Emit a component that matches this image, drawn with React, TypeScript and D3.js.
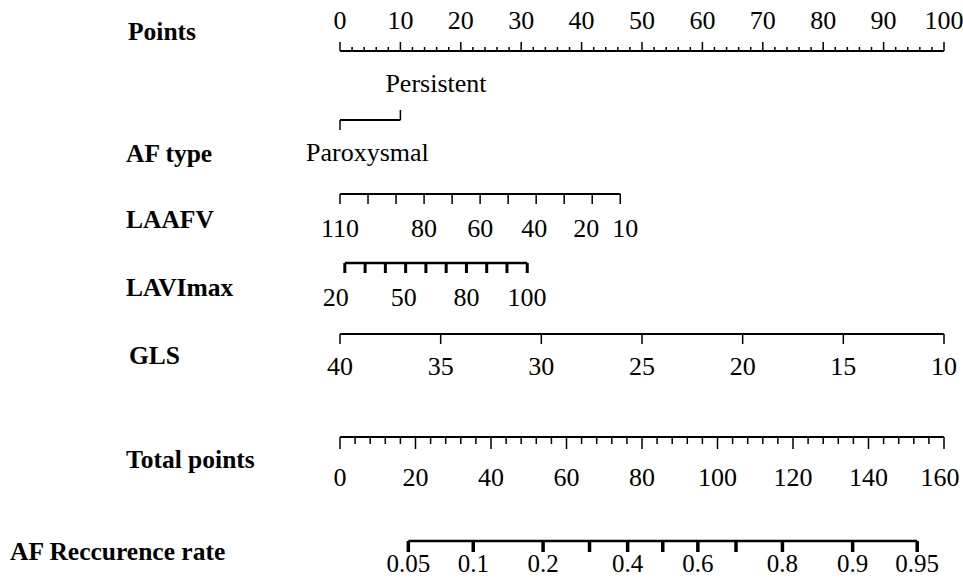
import * as d3 from 'd3';

const W = 963;
const H = 579;

// points scale, shared by every predictor row
const pointsDomain = [0, 100];
const pointsLabels = [0, 10, 20, 30, 40, 50, 60, 70, 80, 90, 100];

// AF type: points of each category
const afTypeCats = ['Paroxysmal', 'Persistent'];
const afTypePoints = [0, 10];

// LAAFV: value at the two ends and their points
const laafvEnds = [110, 10];
const laafvEndPoints = [0, 46.4];
const laafvTicks = [110, 100, 90, 80, 70, 60, 50, 40, 30, 20, 10];
const laafvLabels = [110, 80, 60, 40, 20, 10];
const laafvLabelNudge = [0, 0, 0, -2, -6, 5];

// LAVImax
const laviEnds = [20, 110];
const laviEndPoints = [0.8, 31.0];
const laviTicks = [20, 30, 40, 50, 60, 70, 80, 90, 100, 110];
const laviLabels = [20, 50, 80, 100];
const laviLabelNudge = [-9, -2, 0, 20];

// GLS
const glsEnds = [40, 10];
const glsEndPoints = [0, 100];
const glsTicks = [40, 35, 30, 25, 20, 15, 10];

// Total points
const totalDomain = [0, 160];
const totalLabels = [0, 20, 40, 60, 80, 100, 120, 140, 160];

// AF recurrence rate vs total points
const riskProbs = [0.05, 0.1, 0.2, 0.3, 0.4, 0.5, 0.6, 0.7, 0.8, 0.9, 0.95];
const riskTotal = [18.1, 35.3, 53.8, 66.1, 76.2, 85.5, 94.8, 104.9, 117.2, 135.8, 152.9];
const riskLabels = ['0.05', '0.1', '0.2', '', '0.4', '', '0.6', '', '0.8', '0.9', '0.95'];

const FONT = "'Liberation Serif', 'DejaVu Serif', 'Times New Roman', serif";

export default function App() {
  const x = d3.scaleLinear().domain(pointsDomain).range([340, 944]);
  const xTot = d3.scaleLinear().domain(totalDomain).range([340, 944]);
  const laafv = d3.scaleLinear().domain(laafvEnds).range(laafvEndPoints);
  const lavi = d3.scaleLinear().domain(laviEnds).range(laviEndPoints);
  const gls = d3.scaleLinear().domain(glsEnds).range(glsEndPoints);

  const pointMinor = d3.range(pointsDomain[0], pointsDomain[1] + 1, 2);
  const totalMinor = d3.range(totalDomain[0], totalDomain[1] + 1, 4);

  const nameStyle = { fontFamily: FONT, fontWeight: 700, fontSize: '25.5px' };
  const tickStyle = { fontFamily: FONT, fontSize: '26px' };

  // row baselines
  const yPts = 51, yAf = 120, yLaafv = 194, yLavi = 263, yGls = 334, yTot = 437, yRisk = 541;

  return (
    <svg width={W} height={H} style={{ position: 'absolute', left: 0, top: 0, background: '#fff' }}>
      <g fill="#000" style={nameStyle}>
        <text x={128} y={40}>Points</text>
        <text x={126} y={162}>AF type</text>
        <text x={126} y={228}>LAAFV</text>
        <text x={126} y={296}>LAVImax</text>
        <text x={129} y={364}>GLS</text>
        <text x={126} y={468}>Total points</text>
        <text x={10} y={560}>AF Reccurence rate</text>
      </g>

      {/* Points */}
      <g stroke="#000" strokeWidth={1.5}>
        <line x1={x(0)} x2={x(100)} y1={yPts} y2={yPts} strokeWidth={2} />
        {pointMinor.map(v => (
          <line key={v} x1={x(v)} x2={x(v)} y1={yPts} y2={yPts - (v % 10 === 0 ? 9 : 4)} />
        ))}
      </g>
      <g style={tickStyle} textAnchor="middle">
        {pointsLabels.map(v => (
          <text key={v} x={x(v)} y={29}>{v}</text>
        ))}
      </g>

      {/* AF type */}
      <g stroke="#000" strokeWidth={1.5} fill="none">
        <line x1={x(afTypePoints[0])} x2={x(afTypePoints[1])} y1={yAf} y2={yAf} strokeWidth={2} />
        <line x1={x(afTypePoints[0])} x2={x(afTypePoints[0])} y1={yAf} y2={yAf + 10} />
        <line x1={x(afTypePoints[1])} x2={x(afTypePoints[1])} y1={yAf} y2={yAf - 10} />
      </g>
      <g style={tickStyle}>
        <text x={x(afTypePoints[0]) - 34} y={161}>{afTypeCats[0]}</text>
        <text x={x(afTypePoints[1]) - 15} y={92}>{afTypeCats[1]}</text>
      </g>

      {/* LAAFV */}
      <g stroke="#000" strokeWidth={1.5}>
        <line x1={x(laafv(laafvEnds[0]))} x2={x(laafv(laafvEnds[1]))} y1={yLaafv} y2={yLaafv} strokeWidth={2} />
        {laafvTicks.map(v => (
          <line key={v} x1={x(laafv(v))} x2={x(laafv(v))} y1={yLaafv} y2={yLaafv + 10} />
        ))}
      </g>
      <g style={tickStyle} textAnchor="middle">
        {laafvLabels.map((v, i) => (
          <text key={v} x={x(laafv(v)) + laafvLabelNudge[i]} y={237}>{v}</text>
        ))}
      </g>

      {/* LAVImax */}
      <g stroke="#000" strokeWidth={3}>
        <line x1={x(lavi(laviEnds[0]))} x2={x(lavi(laviEnds[1]))} y1={yLavi} y2={yLavi} strokeWidth={2.5} />
        {laviTicks.map(v => (
          <line key={v} x1={x(lavi(v))} x2={x(lavi(v))} y1={yLavi} y2={yLavi + 10} />
        ))}
      </g>
      <g style={tickStyle} textAnchor="middle">
        {laviLabels.map((v, i) => (
          <text key={v} x={x(lavi(v)) + laviLabelNudge[i]} y={306}>{v}</text>
        ))}
      </g>

      {/* GLS */}
      <g stroke="#000" strokeWidth={1.5}>
        <line x1={x(gls(glsEnds[0]))} x2={x(gls(glsEnds[1]))} y1={yGls} y2={yGls} strokeWidth={2} />
        {glsTicks.map(v => (
          <line key={v} x1={x(gls(v))} x2={x(gls(v))} y1={yGls} y2={yGls + 10} />
        ))}
      </g>
      <g style={tickStyle} textAnchor="middle">
        {glsTicks.map(v => (
          <text key={v} x={x(gls(v))} y={375}>{v}</text>
        ))}
      </g>

      {/* Total points */}
      <g stroke="#000" strokeWidth={1.5}>
        <line x1={xTot(0)} x2={xTot(160)} y1={yTot} y2={yTot} strokeWidth={2} />
        {totalMinor.map(v => (
          <line key={v} x1={xTot(v)} x2={xTot(v)} y1={yTot} y2={yTot + (v % 20 === 0 ? 12 : 7)} />
        ))}
      </g>
      <g style={tickStyle} textAnchor="middle">
        {totalLabels.map((v, i) => (
          <text key={v} x={xTot(v) - (i === totalLabels.length - 1 ? 4 : 0)} y={486}>{v}</text>
        ))}
      </g>

      {/* AF recurrence rate */}
      <g stroke="#000" strokeWidth={3.5}>
        <line x1={xTot(riskTotal[0])} x2={xTot(riskTotal[riskTotal.length - 1])} y1={yRisk} y2={yRisk} strokeWidth={2.5} />
        {riskTotal.map((t, i) => (
          <line key={riskProbs[i]} x1={xTot(t)} x2={xTot(t)} y1={yRisk} y2={yRisk + 11} />
        ))}
      </g>
      <g style={{ ...tickStyle, fontSize: '25px' }} textAnchor="middle">
        {riskTotal.map((t, i) =>
          riskLabels[i] ? (
            <text key={riskProbs[i]} x={xTot(t)} y={572}>{riskLabels[i]}</text>
          ) : null
        )}
      </g>
    </svg>
  );
}
